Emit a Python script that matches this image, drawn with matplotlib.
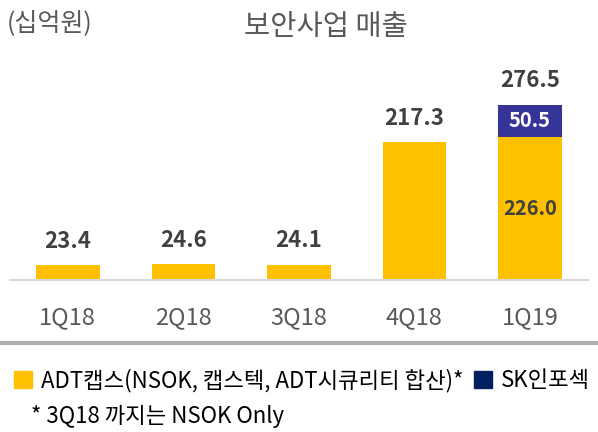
import matplotlib.pyplot as plt
from matplotlib.patches import Patch

plt.rcParams['font.family'] = ['Noto Sans CJK KR', 'DejaVu Sans']

# data (십억원)
quarters = ['1Q18', '2Q18', '3Q18', '4Q18', '1Q19']
adt_caps = [23.4, 24.6, 24.1, 217.3, 226.0]
sk_infosec = [0, 0, 0, 0, 50.5]
totals = [23.4, 24.6, 24.1, 217.3, 276.5]

yellow = '#FFC000'
indigo = '#363399'
navy = '#002060'
dark = '#404040'
gray = '#595959'

fig = plt.figure(figsize=(5.98, 4.32), dpi=100)
ax = fig.add_axes([0.0167, 0.352, 0.966, 0.469])

x = range(len(quarters))
ax.bar(x, adt_caps, width=0.55, color=yellow, zorder=2)
ax.bar(x, sk_infosec, width=0.55, bottom=adt_caps, color=indigo, zorder=2)

# total labels above bars
for i, t in enumerate(totals):
    ax.annotate(f'{t:.1f}', (i, t), xytext=(0, 9), textcoords='offset points',
                ha='center', va='bottom', fontsize=16, fontweight='bold', color=dark)

# labels inside the stacked bar
last = len(quarters) - 1
ax.text(last, adt_caps[last] / 2, f'{adt_caps[last]:.1f}', ha='center', va='center',
        fontsize=14.5, fontweight='bold', color=dark, zorder=3)
ax.text(last, adt_caps[last] + sk_infosec[last] / 2, f'{sk_infosec[last]:.1f}',
        ha='center', va='center', fontsize=14.5, fontweight='bold', color='white', zorder=3)

ax.set_xlim(-0.5, 4.5)
ax.set_ylim(0, 320)
ax.set_xticks(list(x))
ax.set_xticklabels(quarters, fontsize=17, color=gray)
ax.tick_params(axis='x', length=0, pad=19)
ax.set_yticks([])
for s in ['top', 'right', 'left']:
    ax.spines[s].set_visible(False)
ax.spines['bottom'].set_color('#d9d9d9')
ax.spines['bottom'].set_linewidth(1.5)
ax.spines['bottom'].set_zorder(3)

fig.text(0.545, 0.937, '보안사업 매출', ha='center', va='center', fontsize=20.5, color=gray)
fig.text(0.012, 0.947, '(십억원)', ha='left', va='center', fontsize=18, color=gray)

# separator line
fig.add_artist(plt.Line2D([0, 1], [0.207, 0.207], color='#b0b0b0', linewidth=3))

handles = [Patch(color=yellow, label='ADT캡스(NSOK, 캡스텍, ADT시큐리티 합산)*'),
           Patch(color=navy, label='SK인포섹')]
fig.legend(handles=handles, loc='center left', bbox_to_anchor=(0.012, 0.12), ncol=2,
           frameon=False, fontsize=16, handlelength=0.8, handleheight=0.8,
           handletextpad=0.4, columnspacing=0.5, labelcolor='black',
           borderaxespad=0.0, borderpad=0.3)

fig.text(0.052, 0.035, '* 3Q18 까지는 NSOK Only', ha='left', va='center', fontsize=16, color='black')

fig.savefig('out.png', dpi=100)
